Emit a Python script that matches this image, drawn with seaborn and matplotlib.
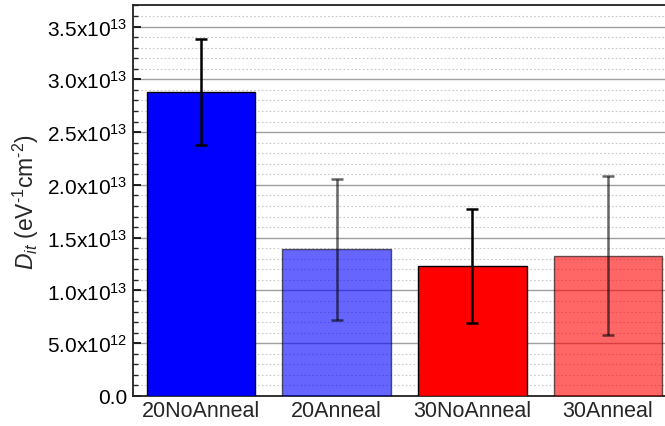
import numpy as np
import pandas as pd
import matplotlib
matplotlib.use("Agg")
import matplotlib.pyplot as plt
import seaborn as sns
from matplotlib.ticker import MultipleLocator, FuncFormatter

# data
samples = ["20NoAnneal", "20Anneal", "30NoAnneal", "30Anneal"]
dit = [2.88e13, 1.39e13, 1.23e13, 1.33e13]
dit_err = [0.50e13, 0.67e13, 0.54e13, 0.75e13]
bar_colors = ["#0000ff", "#0000ff", "#ff0000", "#ff0000"]
bar_alpha = [1.0, 0.6, 1.0, 0.6]

sns.set_style("white")
plt.rcParams["font.family"] = ["Liberation Sans", "DejaVu Sans"]
plt.rcParams["mathtext.fontset"] = "custom"
plt.rcParams["mathtext.rm"] = "Liberation Sans"
plt.rcParams["mathtext.it"] = "Liberation Sans:italic"

df = pd.DataFrame({"sample": samples, "dit": dit})

fig = plt.figure(figsize=(6.65, 4.27), dpi=100)
ax = fig.add_axes([0.2, 0.0703, 0.8165, 0.9147])

sns.barplot(data=df, x="sample", y="dit", hue="sample", palette=bar_colors,
            legend=False, width=0.8, edgecolor="black", linewidth=1.0,
            saturation=1, ax=ax, zorder=3)

for i, patch in enumerate(ax.patches):
    patch.set_alpha(bar_alpha[i])

for i in range(len(samples)):
    ax.errorbar(i, dit[i], yerr=dit_err[i], fmt="none", ecolor="black",
                elinewidth=1.8, capsize=4, capthick=1.8, alpha=bar_alpha[i],
                zorder=4)

ax.set_xlim(-0.5, 3.5)
ax.set_ylim(0, 3.7e13)
ax.yaxis.set_major_locator(MultipleLocator(0.5e13))
ax.yaxis.set_minor_locator(MultipleLocator(0.1e13))


def sci_fmt(v, pos):
    if v == 0:
        return "0.0"
    e = int(np.floor(np.log10(abs(v)) + 1e-9))
    m = v / 10 ** e
    return f"{m:.1f}x10$^{{{e}}}$"


ax.yaxis.set_major_formatter(FuncFormatter(sci_fmt))
ax.grid(True, which="major", axis="y", color="#a0a0a0", linewidth=1.0, zorder=0)
ax.grid(True, which="minor", axis="y", color="#c8c8c8", linewidth=0.8,
        linestyle=(0, (1.5, 2)), zorder=0)
ax.set_axisbelow(True)

ax.tick_params(axis="y", which="major", direction="in", length=6, width=1.2,
               left=True, labelsize=15, colors="black", pad=4)
ax.tick_params(axis="y", which="minor", direction="in", length=3.5, width=1,
               left=True)
ax.tick_params(axis="x", which="both", length=0, labelsize=15.5, pad=3)

for s in ax.spines.values():
    s.set_color("#222222")
    s.set_linewidth(1.3)

ax.set_xlabel("")
ax.set_ylabel(r"$D_{it}$ (eV$^{\text{-}1}$cm$^{\text{-}2}$)", fontsize=16.5,
              labelpad=4)

fig.savefig("out.png", dpi=100)
